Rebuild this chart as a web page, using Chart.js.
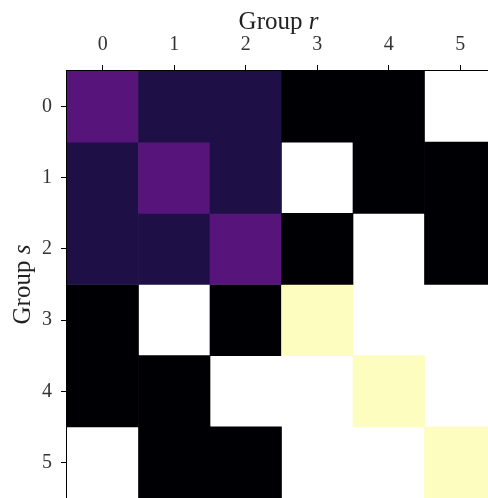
<!DOCTYPE html>
<html>
<head>
<meta charset="utf-8">
<script src="https://cdn.jsdelivr.net/npm/chart.js@4"></script>
<style>
  html, body { margin: 0; padding: 0; background: #fff; overflow: hidden; }
  #wrap { width: 500px; height: 500px; }
</style>
</head>
<body>
<div id="wrap"><canvas id="c" width="500" height="500"></canvas></div>
<script>
// group indices (r across the top, s down the side)
const groupR = ['0', '1', '2', '3', '4', '5'];
const groupS = ['0', '1', '2', '3', '4', '5'];

// cell values, one array per row s; null = masked (white)
const row0 = [0.27, 0.13, 0.13, 0, 0, null];
const row1 = [0.13, 0.27, 0.13, null, 0, 0];
const row2 = [0.13, 0.13, 0.27, 0, null, 0];
const row3 = [0, null, 0, 1, null, null];
const row4 = [0, 0, null, null, 1, null];
const row5 = [null, 0, 0, null, null, 1];
const rows = [row0, row1, row2, row3, row4, row5];

// magma colormap stops (0, .125, ... 1)
const magmaStops = ['#000004', '#1c1044', '#4f127b', '#812581', '#b5367a', '#e55064', '#fb8761', '#fec287', '#fcfdbf'];

function hexToRgb(h) {
  return [parseInt(h.slice(1, 3), 16), parseInt(h.slice(3, 5), 16), parseInt(h.slice(5, 7), 16)];
}
function magma(v) {
  const t = Math.max(0, Math.min(1, v)) * (magmaStops.length - 1);
  const i = Math.min(Math.floor(t), magmaStops.length - 2);
  const f = t - i;
  const a = hexToRgb(magmaStops[i]), b = hexToRgb(magmaStops[i + 1]);
  const c = a.map((x, k) => Math.round(x + (b[k] - x) * f));
  return `rgb(${c[0]},${c[1]},${c[2]})`;
}

const tickFont = { family: 'Liberation Serif', size: 20 };

// axis titles with italic symbol, plus the frame round the plot
const titlesPlugin = {
  id: 'titles',
  afterDatasetsDraw(chart) {
    const { ctx, chartArea } = chart;
    ctx.save();
    ctx.strokeStyle = '#000';
    ctx.lineWidth = 1;
    ctx.strokeRect(chartArea.left - 0.5, chartArea.top - 0.5, chartArea.right - chartArea.left + 1, chartArea.bottom - chartArea.top + 1);
    ctx.restore();
  },
  afterDraw(chart) {
    const { ctx, chartArea } = chart;
    const drawTitle = (word, sym) => {
      ctx.font = '25px "Liberation Serif"';
      const w1 = ctx.measureText(word).width;
      ctx.font = 'italic 25px "Liberation Serif"';
      const w2 = ctx.measureText(sym).width;
      const x0 = -(w1 + w2) / 2;
      ctx.font = '25px "Liberation Serif"';
      ctx.fillText(word, x0, 0);
      ctx.font = 'italic 25px "Liberation Serif"';
      ctx.fillText(sym, x0 + w1, 0);
    };
    ctx.save();
    ctx.fillStyle = '#222';
    ctx.textBaseline = 'alphabetic';
    ctx.textAlign = 'left';
    ctx.translate((chartArea.left + chartArea.right) / 2 - 3, 29);
    drawTitle('Group ', 'r');
    ctx.restore();

    ctx.save();
    ctx.fillStyle = '#222';
    ctx.textBaseline = 'alphabetic';
    ctx.textAlign = 'left';
    ctx.translate(30, (chartArea.top + chartArea.bottom) / 2);
    ctx.rotate(-Math.PI / 2);
    drawTitle('Group ', 's');
    ctx.restore();
  }
};

const datasets = rows.map((row, s) => ({
  label: 'Group s ' + groupS[s],
  data: row.map(v => v === null ? null : [s - 0.5, s + 0.5]),
  backgroundColor: row.map(v => v === null ? 'rgba(0,0,0,0)' : magma(v)),
  borderWidth: 0,
  grouped: false,
  barPercentage: 1,
  categoryPercentage: 1
}));

new Chart(document.getElementById('c'), {
  type: 'bar',
  data: { labels: groupR, datasets: datasets },
  options: {
    responsive: false,
    animation: false,
    layout: { padding: { left: 0, top: 0, right: 4, bottom: 2 } },
    plugins: { legend: { display: false }, tooltip: { enabled: false } },
    scales: {
      x: {
        type: 'category',
        position: 'top',
        offset: true,
        border: { display: false },
        grid: { offset: false, drawOnChartArea: false, drawTicks: true, tickLength: 6, tickColor: '#000', lineWidth: 1 },
        ticks: { color: '#333', font: tickFont, padding: 8, maxRotation: 0 },
        afterFit(scale) {
          scale.height = 71;
          scale.paddingLeft = 0;
          scale.paddingRight = 0;
        }
      },
      y: {
        type: 'linear',
        reverse: true,
        min: -0.5,
        max: 5.5,
        border: { display: false },
        grid: { drawOnChartArea: false, drawTicks: true, tickLength: 6, tickColor: '#000', lineWidth: 1 },
        ticks: { color: '#333', font: tickFont, padding: 9, callback: v => groupS[v] },
        afterBuildTicks(scale) { scale.ticks = groupS.map((_, i) => ({ value: i })); },
        afterFit(scale) {
          scale.width = 67;
          scale.paddingTop = 0;
          scale.paddingBottom = 0;
        }
      }
    }
  },
  plugins: [titlesPlugin]
});
</script>
</body>
</html>
